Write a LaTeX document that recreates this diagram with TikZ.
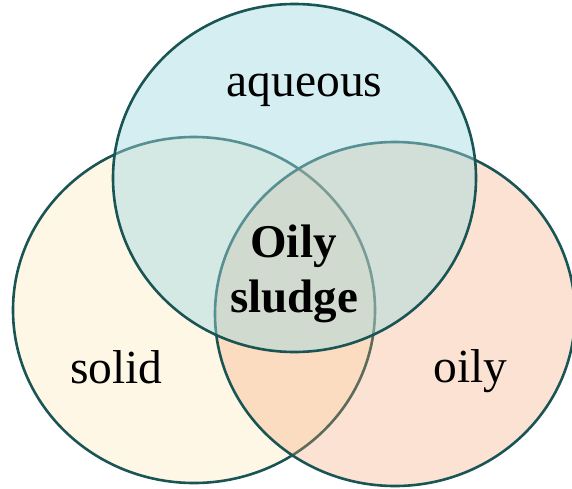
\documentclass[tikz,border=0pt]{standalone}
\usepackage{fontspec}
\setmainfont{Liberation Serif}
\definecolor{rim}{RGB}{26,85,85}
\definecolor{solidfill}{RGB}{255,247,230}
\definecolor{oilyfill}{RGB}{245,158,105}
\definecolor{aquafill}{RGB}{160,217,224}
\begin{document}
\begin{tikzpicture}[x=1pt,y=-1pt,
  setring/.style={draw=rim,line width=2.6pt},
  setlabel/.style={font=\fontsize{47.5}{55}\selectfont,anchor=base,inner sep=0pt}]
\useasboundingbox (0,0) rectangle (572,489);
% the three sets, each fill laid over the earlier ones
\path[setring,fill=solidfill] (194,310) ellipse [x radius=181,y radius=173];
\path[setring,fill=oilyfill,fill opacity=0.3] (395,314) ellipse [x radius=180,y radius=172];
\path[setring,fill=aquafill,fill opacity=0.45] (294.5,178) ellipse [x radius=181.5,y radius=174];
% labels
\node[setlabel] (aqueous) at (304.5,97) {aqueous};
\node[setlabel] (solid) at (116.5,383) {solid};
\node[setlabel] (oily) at (470.5,382) {oily};
\node[setlabel,font=\fontsize{47}{55}\selectfont\bfseries] (oilytop) at (293.5,257) {Oily};
\node[setlabel,font=\fontsize{47}{55}\selectfont\bfseries] (sludge) at (294,312) {sludge};
\end{tikzpicture}
\end{document}
